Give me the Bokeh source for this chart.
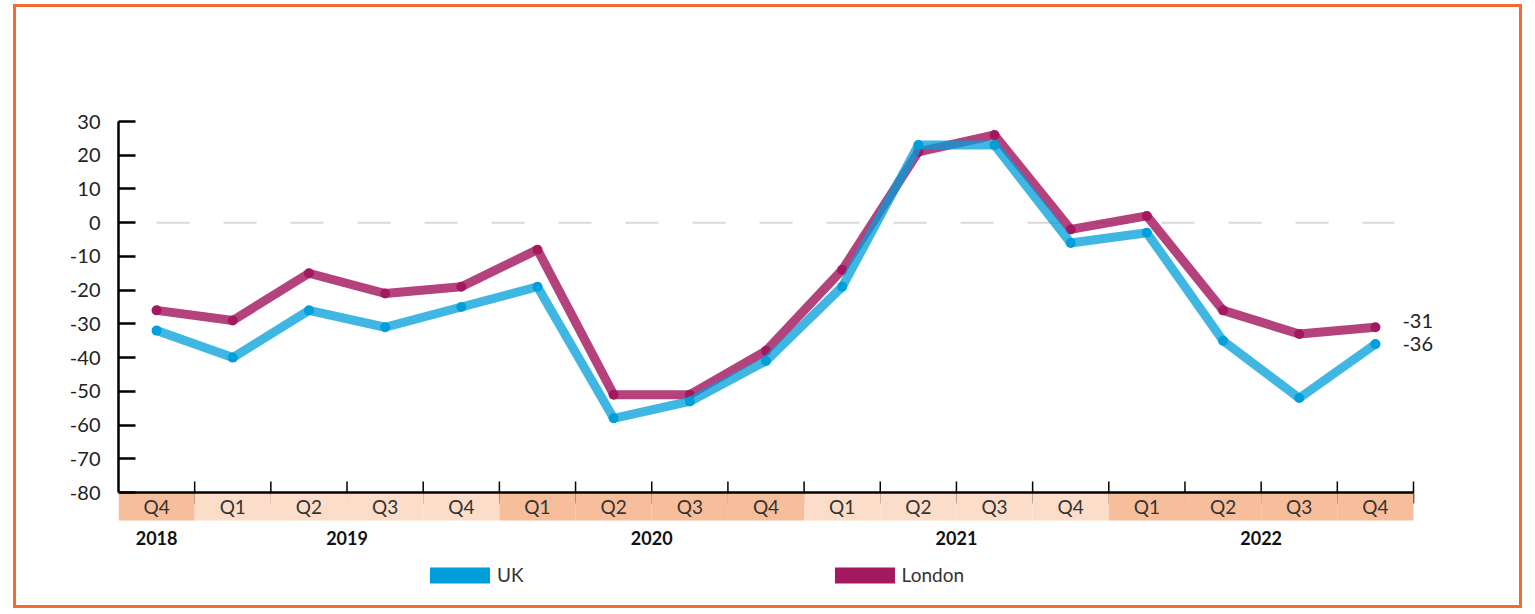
import math
from bokeh.plotting import figure
from bokeh.models import (Range1d, Legend, LegendItem, ColumnDataSource,
                          FixedTicker, Label)
from bokeh.core.properties import value
from bokeh.embed import file_html
from bokeh.resources import INLINE

# ---------------- data ----------------
years = ["2018", "2019", "2019", "2019", "2019", "2020", "2020", "2020", "2020",
         "2021", "2021", "2021", "2021", "2022", "2022", "2022", "2022"]
quarters = ["Q4", "Q1", "Q2", "Q3", "Q4", "Q1", "Q2", "Q3", "Q4",
            "Q1", "Q2", "Q3", "Q4", "Q1", "Q2", "Q3", "Q4"]
uk = [-32, -40, -26, -31, -25, -19, -58, -53, -41, -19, 23, 23, -6, -3, -35, -52, -36]
london = [-26, -29, -15, -21, -19, -8, -51, -51, -38, -14, 21, 26, -2, 2, -26, -33, -31]
y_ticks = [30, 20, 10, 0, -10, -20, -30, -40, -50, -60, -70, -80]
series_names = ["UK", "London"]

# ---------------- styling / layout ----------------
FONT = "Lato"
UK_COLOR = "#009FDA"
LON_COLOR = "#A3185F"
BAND_DARK = "#F7BE9B"
BAND_LIGHT = "#FBDDC9"
BORDER = "#F26B35"

N = len(quarters)
CAT_W = 1295 / N          # pixel width of one quarter slot
BORDER_L, BORDER_T = 102, 114
FRAME_W = 1405
FRAME_H = 484
PX_PER_UNIT = 371 / 110
y_top = max(y_ticks)
y_bot = min(y_ticks)
y_start = y_top - FRAME_H / PX_PER_UNIT
band_bottom = y_bot - 28 / PX_PER_UNIT
q_label_y = y_bot - 14 / PX_PER_UNIT
year_label_y = y_bot - 45 / PX_PER_UNIT

# categorical slots -> slot centres on a linear scale
xc = [i + 0.5 for i in range(N)]
unique_years = list(dict.fromkeys(years))
year_color = {yr: (BAND_DARK if i % 2 == 0 else BAND_LIGHT) for i, yr in enumerate(unique_years)}
year_x = [sum(x for x, yr in zip(xc, years) if yr == u) / years.count(u) for u in unique_years]

p = figure(x_range=Range1d(0, FRAME_W / CAT_W), y_range=Range1d(y_start, y_top),
           width=BORDER_L + FRAME_W + 2, height=BORDER_T + FRAME_H + 6,
           min_border_left=BORDER_L, min_border_right=2,
           min_border_top=BORDER_T, min_border_bottom=6,
           toolbar_location=None, output_backend="svg", title=None,
           x_axis_location=None)
p.styles = {"border": f"3px solid {BORDER}", "margin-left": "13px", "margin-top": "4px"}
p.outline_line_color = None
p.xgrid.visible = False
p.ygrid.visible = False
p.background_fill_color = "white"
p.border_fill_color = "white"

# y axis
yax = p.yaxis[0]
yax.ticker = FixedTicker(ticks=y_ticks)
yax.major_label_overrides = {t: str(t) for t in y_ticks}
yax.bounds = (y_bot, y_top)
yax.axis_line_color = "black"
yax.axis_line_width = 2.5
yax.major_tick_line_color = "black"
yax.major_tick_line_width = 2.5
yax.major_tick_in = 17
yax.major_tick_out = 0
yax.minor_tick_line_color = None
yax.major_label_standoff = 18
yax.major_label_text_font = FONT
yax.major_label_text_font_size = "20px"
yax.major_label_text_color = "#222222"

# zero reference line
p.line(x=[xc[0], xc[-1] + 0.25], y=[0, 0], line_color="#D9D9D9",
       line_width=2, line_dash="33 34")

# x axis: boundary ticks, bands, axis line
tick_src = ColumnDataSource(dict(x=[x + 0.5 for x in xc], y=[y_bot] * N))
p.scatter(x="x", y="y", source=tick_src, marker="dash", angle=math.pi / 2,
          size=22, line_color="black", line_width=1.5)

band_src = ColumnDataSource(dict(x=xc, q=quarters,
                                 color=[year_color[yr] for yr in years],
                                 top=[y_bot] * N, bottom=[band_bottom] * N,
                                 ly=[q_label_y] * N))
p.vbar(x="x", width=1.0, top="top", bottom="bottom", source=band_src,
       fill_color="color", line_color=None)
p.text(x="x", y="ly", text="q", source=band_src, text_font=value(FONT),
       text_font_size="19px", text_color="#333333", text_align="center",
       text_baseline="middle")
p.line(x=[xc[0] - 0.5, xc[-1] + 0.5], y=[y_bot, y_bot], line_color="black",
       line_width=2.5)

# year labels
yr_src = ColumnDataSource(dict(x=year_x, y=[year_label_y] * len(unique_years),
                               t=unique_years))
p.text(x="x", y="y", text="t", source=yr_src, text_font=value(FONT),
       text_font_size="18px", text_font_style="bold", text_color="#111111",
       text_align="center", text_baseline="middle")

# series
src = ColumnDataSource(dict(x=xc, uk=uk, london=london))
p.line(x="x", y="london", source=src, line_color=LON_COLOR, line_alpha=0.82,
       line_width=9, line_cap="round", line_join="round")
p.scatter(x="x", y="london", source=src, size=10, fill_color=LON_COLOR,
          line_color=None)
p.line(x="x", y="uk", source=src, line_color=UK_COLOR, line_alpha=0.75,
       line_width=9, line_cap="round", line_join="round")
p.scatter(x="x", y="uk", source=src, size=10, fill_color=UK_COLOR, line_color=None)

# end labels
for vals, dy in ((london, 6), (uk, 0)):
    p.add_layout(Label(x=xc[-1], y=vals[-1], text=str(vals[-1]), x_offset=27,
                       y_offset=dy, text_font=FONT, text_font_size="20px",
                       text_color="#222222", text_align="left",
                       text_baseline="middle"))

# legend swatches (thick strokes, hidden from the plot area)
uk_sw = p.line(x="x", y="uk", source=src, line_color=UK_COLOR, line_width=16,
               line_cap="round", visible=False)
lon_sw = p.line(x="x", y="london", source=src, line_color=LON_COLOR, line_width=16,
                line_cap="round", visible=False)
legend = Legend(items=[LegendItem(label=series_names[0], renderers=[uk_sw]),
                       LegendItem(label=series_names[1], renderers=[lon_sw])],
                orientation="horizontal", location=(312, 19),
                glyph_width=60, glyph_height=20, label_standoff=7, spacing=311,
                padding=0, margin=0, border_line_color=None,
                background_fill_alpha=0, inactive_fill_alpha=0,
                label_text_font=FONT,
                label_text_font_size="19px", label_text_color="#333333")
p.add_layout(legend)

open("out.html", "w").write(file_html(p, INLINE))
